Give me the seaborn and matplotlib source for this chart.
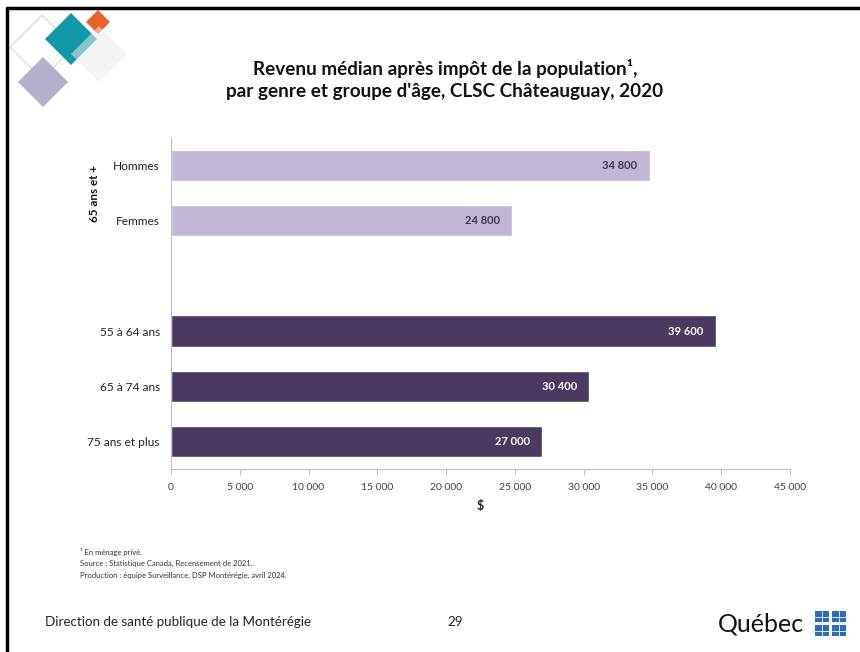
import pandas as pd
import matplotlib.pyplot as plt
from matplotlib.patches import Polygon, Rectangle
import seaborn as sns

# données
categories = ['Hommes', 'Femmes', '55 à 64 ans', '65 à 74 ans', '75 ans et plus']
revenus = [34800, 24800, 39600, 30400, 27000]
groupes = ['65 ans et +', '65 ans et +', 'age', 'age', 'age']
ordre = ['Hommes', 'Femmes', ' ', '55 à 64 ans', '65 à 74 ans', '75 ans et plus']
x_ticks = [0, 5000, 10000, 15000, 20000, 25000, 30000, 35000, 40000, 45000]

lavande = '#c1b7d5'
violet = '#4b3a5f'
palette = {c: (lavande if g != 'age' else violet) for c, g in zip(categories, groupes)}

df = pd.DataFrame({'categorie': categories, 'revenu': revenus})

sns.set_theme(style='white')
plt.rcParams['font.family'] = ['Lato', 'DejaVu Sans']

fig = plt.figure(figsize=(8.6, 6.52), dpi=100)
fig.patch.set_facecolor('white')

# fond de la diapositive
bg = fig.add_axes([0, 0, 1, 1], zorder=0)
bg.set_xlim(0, 860)
bg.set_ylim(652, 0)
bg.axis('off')
bg.plot([7, 7], [8, 652], color='black', lw=2.5)
bg.plot([7, 860], [8, 8], color='black', lw=2.5)


def losange(cx, cy, r, **kw):
    bg.add_patch(Polygon([(cx, cy - r), (cx + r, cy), (cx, cy + r), (cx - r, cy)], closed=True, **kw))


losange(42, 47, 32, facecolor='none', edgecolor='#dde5d8', lw=1.2)
losange(71, 39, 26, facecolor='#1198a8', edgecolor='none')
losange(98, 22, 12, facecolor='#e8622a', edgecolor='none')
losange(99, 54, 28, facecolor='#ececec', edgecolor='none', alpha=0.55)
losange(43, 82, 25, facecolor='#b6afcb', edgecolor='none')

bg.text(445, 68, "Revenu médian après impôt de la population¹,", ha='center', va='center',
        fontsize=13.6, fontweight='bold', color='#111111')
bg.text(445, 92, "par genre et groupe d'âge, CLSC Châteauguay, 2020", ha='center', va='center',
        fontsize=13.6, fontweight='bold', color='#111111')

notes = ['¹ En ménage privé.',
         'Source : Statistique Canada, Recensement de 2021.',
         'Production : équipe Surveillance, DSP Montérégie, avril 2024.']
for i, n in enumerate(notes):
    bg.text(80, 552 + i * 11.5, n, ha='left', va='center', fontsize=5.5, color='#333333')

bg.text(45, 622, 'Direction de santé publique de la Montérégie', ha='left', va='center',
        fontsize=9.6, color='#222222')
bg.text(455, 622, '29', ha='center', va='center', fontsize=9.6, color='#222222')
bg.text(718, 624, 'Québec', ha='left', va='center', fontsize=18, color='#111111')
for fx in (815, 832):
    for fy in (611, 625):
        bg.add_patch(Rectangle((fx, fy), 14, 11, facecolor='#2a6fb7', edgecolor='none'))
        bg.plot([fx + 7, fx + 7], [fy, fy + 11], color='white', lw=0.6)
        bg.plot([fx, fx + 14], [fy + 5.5, fy + 5.5], color='white', lw=0.6)

# graphique
ax = fig.add_axes([171 / 860, 1 - 469 / 652, (790 - 171) / 860, (469 - 138) / 652], zorder=1)
ax.patch.set_alpha(0)
sns.barplot(data=df, y='categorie', x='revenu', hue='categorie', order=ordre,
            palette=palette, orient='h', width=0.57, legend=False, saturation=1, ax=ax)

ax.set_xlim(0, 45000)
ax.set_ylim(5.5, -0.5)
ax.set_xticks(x_ticks)
ax.set_xticklabels([f'{v:,}'.replace(',', ' ') for v in x_ticks], fontsize=7.5, color='#404040')
ax.tick_params(axis='x', bottom=True, length=4, width=0.8, color='#bfbfbf', pad=6)
ax.tick_params(axis='y', left=False, length=0, labelsize=8.6, labelcolor='#222222', pad=8)
ax.set_xlabel('$', fontsize=9, fontweight='bold', color='#222222', labelpad=6)
ax.set_ylabel('')
for s in ['top', 'right']:
    ax.spines[s].set_visible(False)
for s in ['left', 'bottom']:
    ax.spines[s].set_color('#bfbfbf')
    ax.spines[s].set_linewidth(0.8)

# étiquettes de valeur
for c, v in zip(categories, revenus):
    pos = ordre.index(c)
    couleur = 'white' if palette[c] == violet else '#3a3a4a'
    ax.text(v - 900, pos, f'{v:,}'.replace(',', ' '), ha='right', va='center',
            fontsize=8, fontweight='bold', color=couleur)

ax.annotate('65 ans et +', xy=(95 / 860, 1 - 193 / 652), xycoords='figure fraction',
            rotation=90, ha='center', va='center', fontsize=8.4, fontweight='bold', color='#111111')

fig.savefig('out.png', dpi=100)
